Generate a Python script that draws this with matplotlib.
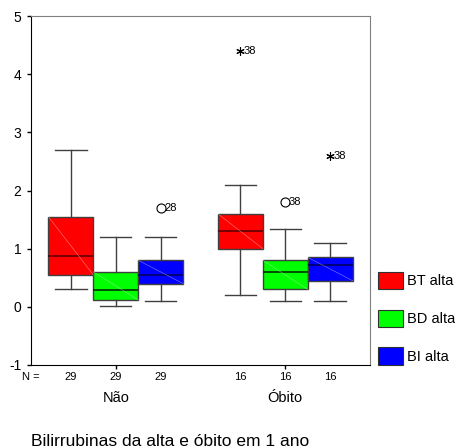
import matplotlib
matplotlib.use("Agg")
import matplotlib.pyplot as plt
from matplotlib.patches import Patch

plt.rcParams['font.family'] = ['Liberation Sans', 'DejaVu Sans']

# data
groups = ['Não', 'Óbito']
series = ['BT alta', 'BD alta', 'BI alta']
n_counts = [29, 16]
colors = ['#ff0000', '#00ff00', '#0000ff']
median_colors = ['#600000', '#003000', '#000060']

# [whisker low, q1, median, q3, whisker high] per group, per series
box_nao = [[0.30, 0.55, 0.87, 1.55, 2.70],
           [0.02, 0.12, 0.29, 0.60, 1.20],
           [0.10, 0.40, 0.55, 0.80, 1.20]]
box_obito = [[0.20, 1.00, 1.30, 1.60, 2.10],
             [0.10, 0.30, 0.60, 0.80, 1.33],
             [0.10, 0.45, 0.72, 0.85, 1.10]]

# outliers: group index, series index, value, marker kind, case label
out_group = [0, 1, 1, 1]
out_series = [2, 0, 1, 2]
out_value = [1.7, 4.4, 1.8, 2.6]
out_kind = ['o', '*', 'o', '*']
out_label = ['28', '38', '38', '38']

box_w = 0.265

fig = plt.figure(figsize=(4.56, 4.48), dpi=100)
ax = fig.add_axes([31 / 456, 83 / 448, 339 / 456, 349 / 448])

for gi, boxes in enumerate([box_nao, box_obito]):
    for si, b in enumerate(boxes):
        pos = gi + 1 + (si - 1) * box_w
        st = dict(whislo=b[0], q1=b[1], med=b[2], q3=b[3], whishi=b[4], fliers=[])
        ax.bxp([st], positions=[pos], widths=box_w, patch_artist=True,
               showfliers=False, manage_ticks=False,
               boxprops=dict(facecolor=colors[si], edgecolor='#404040', linewidth=1),
               whiskerprops=dict(color='#404040', linewidth=1),
               capprops=dict(color='#404040', linewidth=1),
               capwidths=box_w * 0.7,
               medianprops=dict(color=median_colors[si], linewidth=1.2))
        # faint diagonal across the box
        ax.plot([pos - box_w / 2, pos + box_w / 2], [b[3], b[1]],
                color='white', linewidth=0.4, alpha=0.5, zorder=3)

for g, s, v, k, lab in zip(out_group, out_series, out_value, out_kind, out_label):
    pos = g + 1 + (s - 1) * box_w
    if k == 'o':
        ax.plot(pos, v, marker='o', markersize=6.5, markerfacecolor='white',
                markeredgecolor='black', markeredgewidth=0.8, zorder=4)
    else:
        ax.plot(pos, v, marker=(6, 2, 0), markersize=6, color='black',
                markeredgewidth=0.8, zorder=4)
    ax.text(pos + 0.02, v, lab, fontsize=8, va='center', ha='left', zorder=5)

ax.set_xlim(0.5, 2.5)
ax.set_ylim(-1, 5)
ax.set_yticks(range(-1, 6))
ax.set_yticklabels([str(t) for t in range(-1, 6)])
ax.set_xticks([1, 2])
ax.set_xticklabels(['', ''])
ax.tick_params(axis='y', length=3, width=1, labelsize=10, pad=4)
ax.tick_params(axis='x', length=3, width=1)
ax.spines['left'].set_color('black')
ax.spines['bottom'].set_color('black')
ax.spines['top'].set_color('#808080')
ax.spines['right'].set_color('#808080')

# N row and group labels
fig.text(22 / 456, 1 - 380.5 / 448, 'N =', fontsize=8, va='baseline', ha='left')
for gi, n in enumerate(n_counts):
    for si in range(len(series)):
        pos = gi + 1 + (si - 1) * box_w
        ax.text(pos, -0.0444, str(n), transform=ax.get_xaxis_transform(),
                fontsize=8, ha='center', va='baseline')
    ax.text(gi + 1, -0.106, groups[gi], transform=ax.get_xaxis_transform(),
            fontsize=10.5, ha='center', va='baseline')

fig.text(31 / 456, 1 - 446 / 448, 'Bilirrubinas da alta e óbito em 1 ano',
         fontsize=12.5, ha='left', va='baseline')

handles = [Patch(facecolor=c, edgecolor='#303030', linewidth=0.8) for c in colors]
fig.legend(handles, series, loc='upper left',
           bbox_to_anchor=(378 / 456, 1 - 272 / 448), frameon=False,
           fontsize=10.5, handlelength=1.71, handleheight=1.42,
           labelspacing=1.42, handletextpad=0.28, borderpad=0, borderaxespad=0)

fig.savefig('out.png', dpi=100)
